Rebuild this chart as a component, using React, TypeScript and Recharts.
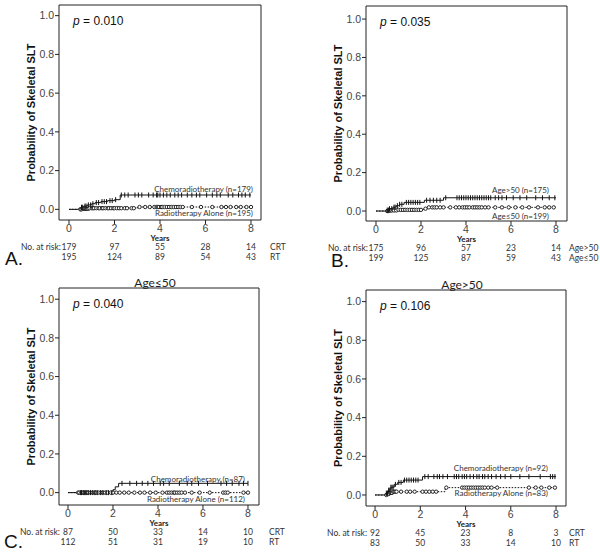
import React from "react";
import { ComposedChart, Line, XAxis, YAxis, ReferenceArea } from "recharts";

type Pt = [number, number];

// step points [years, probability] and censor times
const stepsA_crt: Pt[] = [[0, 0], [0.45, 0.006], [0.55, 0.011], [0.65, 0.017], [0.8, 0.023], [1.0, 0.029], [1.15, 0.035], [1.4, 0.04], [1.7, 0.045], [2.0, 0.05], [2.25, 0.074], [8.0, 0.074]];
const censorA_crt = [0.55, 0.6, 0.7, 0.75, 0.85, 0.95, 1.05, 1.2, 1.3, 1.45, 1.55, 1.65, 1.8, 1.9, 2.05, 2.3, 2.45, 2.6, 2.9, 3.05, 3.2, 3.5, 3.7, 3.85, 3.9, 4.0, 4.15, 4.3, 4.45, 4.65, 4.8, 4.95, 5.2, 5.4, 5.6, 5.75, 6.05, 6.3, 6.5, 6.65, 7.0, 7.2, 7.45, 7.6, 7.75, 7.95];
const stepsA_rt: Pt[] = [[0, 0], [0.6, 0.003], [0.9, 0.006], [3.0, 0.012], [8.0, 0.012]];
const censorA_rt = [0.5, 0.55, 0.6, 0.65, 0.7, 0.75, 0.8, 0.85, 0.9, 1.0, 1.05, 1.1, 1.2, 1.3, 1.35, 1.45, 1.5, 1.6, 1.7, 1.75, 1.85, 1.95, 2.0, 2.1, 2.2, 2.3, 2.45, 2.55, 2.75, 2.85, 3.1, 3.35, 3.55, 3.75, 3.85, 3.9, 3.95, 4.05, 4.1, 4.2, 4.3, 4.4, 4.5, 4.6, 4.7, 4.8, 4.9, 5.0, 5.4, 5.8, 6.3, 6.7, 6.9, 7.1, 7.35, 7.55, 7.8, 8.0];

const stepsB_old: Pt[] = [[0, 0], [0.45, 0.005], [0.6, 0.012], [0.75, 0.02], [0.9, 0.028], [1.05, 0.035], [1.25, 0.045], [2.15, 0.056], [3.0, 0.069], [8.0, 0.069]];
const censorB_old = [0.5, 0.55, 0.6, 0.7, 0.8, 0.85, 0.95, 1.05, 1.15, 1.35, 1.45, 1.55, 1.65, 1.75, 1.85, 1.95, 2.25, 2.4, 2.55, 2.7, 2.85, 3.1, 3.6, 3.7, 3.8, 3.9, 4.0, 4.1, 4.2, 4.3, 4.4, 4.5, 4.6, 4.7, 4.8, 4.9, 5.0, 5.1, 5.3, 5.45, 5.6, 5.8, 6.1, 6.4, 6.7, 7.1, 7.4, 7.7, 7.95];
const stepsB_young: Pt[] = [[0, 0], [0.6, 0.003], [1.0, 0.006], [2.1, 0.012], [2.3, 0.019], [8.0, 0.019]];
const censorB_young = [0.5, 0.55, 0.6, 0.65, 0.7, 0.8, 0.9, 1.0, 1.1, 1.2, 1.3, 1.4, 1.5, 1.6, 1.7, 1.8, 1.9, 2.0, 2.2, 2.35, 2.5, 2.6, 2.7, 2.85, 3.0, 3.3, 3.55, 3.7, 3.85, 3.95, 4.05, 4.15, 4.3, 4.4, 4.5, 4.6, 4.7, 4.85, 5.0, 5.3, 5.6, 5.9, 6.2, 6.5, 6.8, 7.2, 7.5, 7.7, 7.9];

const stepsC_crt: Pt[] = [[0, 0], [2.0, 0.015], [2.1, 0.03], [2.25, 0.048], [8.0, 0.048]];
const censorC_crt = [0.55, 0.6, 0.7, 0.75, 0.8, 0.9, 1.0, 1.1, 1.2, 1.3, 1.45, 1.55, 1.7, 1.8, 1.95, 2.4, 2.75, 3.05, 3.3, 3.55, 3.8, 4.1, 4.25, 4.5, 4.95, 5.3, 5.5, 5.8, 6.2, 6.8, 7.05, 7.3, 7.6, 7.8, 8.0];
const stepsC_rt: Pt[] = [[0, 0], [8.0, 0]];
const censorC_rt = [0.45, 0.5, 0.6, 0.65, 0.7, 0.8, 0.85, 0.9, 1.0, 1.1, 1.2, 1.25, 1.35, 1.45, 1.55, 1.65, 1.75, 1.9, 2.0, 2.15, 2.3, 2.5, 2.7, 2.95, 3.2, 3.4, 3.65, 3.9, 4.2, 4.4, 4.5, 4.6, 4.7, 4.75, 4.85, 4.95, 5.05, 5.2, 5.5, 5.85, 6.3, 6.9, 7.0, 7.1, 7.8, 8.0];

const stepsD_crt: Pt[] = [[0, 0], [0.5, 0.01], [0.6, 0.025], [0.7, 0.04], [0.85, 0.055], [1.0, 0.065], [1.25, 0.077], [2.1, 0.095], [8.0, 0.095]];
const censorD_crt = [0.5, 0.55, 0.6, 0.65, 0.7, 0.75, 0.8, 0.9, 1.05, 1.15, 1.3, 1.4, 1.5, 1.6, 1.7, 1.8, 1.9, 2.2, 2.35, 2.6, 2.75, 2.85, 3.0, 3.2, 3.5, 3.6, 3.7, 3.85, 3.95, 4.05, 4.2, 4.35, 4.5, 4.6, 4.75, 4.85, 5.0, 5.15, 5.35, 5.55, 5.75, 6.0, 6.4, 6.8, 7.3, 7.75, 7.85, 7.95];
const stepsD_rt: Pt[] = [[0, 0], [0.55, 0.005], [0.65, 0.011], [0.8, 0.017], [3.1, 0.038], [8.0, 0.038]];
const censorD_rt = [0.5, 0.55, 0.6, 0.65, 0.7, 0.75, 0.8, 0.85, 0.9, 0.95, 1.15, 1.4, 1.55, 1.75, 2.1, 2.25, 2.4, 2.55, 2.7, 3.15, 3.85, 3.95, 4.05, 4.15, 4.25, 4.35, 4.45, 4.55, 4.65, 4.75, 4.85, 5.0, 5.15, 5.4, 6.8, 7.1, 7.35, 7.7, 7.95];

const yearTicks = [0, 2, 4, 6, 8];
const probTicks = [0, 0.2, 0.4, 0.6, 0.8, 1.0];

const riskA_crt = [179, 97, 55, 28, 14];
const riskA_rt = [195, 124, 89, 54, 43];
const riskB_old = [175, 96, 57, 23, 14];
const riskB_young = [199, 125, 87, 59, 43];
const riskC_crt = [87, 50, 33, 14, 10];
const riskC_rt = [112, 51, 31, 19, 10];
const riskD_crt = [92, 45, 23, 8, 3];
const riskD_rt = [83, 50, 33, 14, 10];

const AXIS_W = 40;
const TEXT = "#333";
const SANS = "Liberation Sans, Arial, sans-serif";
const SMALL = "Lato, sans-serif";

function buildCurve(steps: Pt[], censor: number[]) {
  const valueAt = (t: number) => {
    let v = steps[0][1];
    for (const [s, p] of steps) if (s <= t) v = p;
    return v;
  };
  const pts = steps.map(([t, p]) => ({ t, p, c: false }));
  censor.forEach((t) => pts.push({ t, p: valueAt(t), c: true }));
  pts.sort((a, b) => a.t - b.t || (a.c ? 1 : -1));
  return pts;
}

const plusDot = (props: any) => {
  const { cx, cy, payload, index } = props;
  if (!payload?.c) return <g key={`p${index}`} />;
  return <line key={`p${index}`} x1={cx} x2={cx} y1={cy - 2.5} y2={cy + 2.5} stroke="#111" strokeWidth={1} />;
};

const circleDot = (props: any) => {
  const { cx, cy, payload, index } = props;
  if (!payload?.c) return <g key={`o${index}`} />;
  return <circle key={`o${index}`} cx={cx} cy={cy} r={1.7} fill="#fff" stroke="#111" strokeWidth={0.9} />;
};

type PanelDef = {
  ox: number; oy: number; h: number;
  box: { l: number; t: number; r: number; b: number };
  xDom: [number, number]; yDom: [number, number];
  p: string; title?: string;
  letter?: { text: string; x: number; y: number };
  upper: { steps: Pt[]; censor: number[]; label: string; ly: number };
  lower: { steps: Pt[]; censor: number[]; label: string; ly: number };
  labelRight: number;
  riskUpper: number[]; riskLower: number[];
  rowNames: [string, string]; rowNameX: number;
};

const panels: PanelDef[] = [
  {
    ox: 0, oy: 0, h: 275, box: { l: 59, t: 5, r: 261, b: 220 },
    xDom: [-0.44, 8.44], yDom: [-0.055, 1.055], p: "0.010",
    letter: { text: "A.", x: 5, y: 259 },
    upper: { steps: stepsA_crt, censor: censorA_crt, label: "Chemoradiotherapy (n=179)", ly: 189 },
    lower: { steps: stepsA_rt, censor: censorA_rt, label: "Radiotherapy Alone (n=195)", ly: 213 },
    labelRight: 253, riskUpper: riskA_crt, riskLower: riskA_rt, rowNames: ["CRT", "RT"], rowNameX: 270,
  },
  {
    ox: 300, oy: 0, h: 275, box: { l: 366, t: 6, r: 567, b: 221 },
    xDom: [-0.444, 8.49], yDom: [-0.052, 1.068], p: "0.035",
    letter: { text: "B.", x: 331, y: 261 },
    upper: { steps: stepsB_old, censor: censorB_old, label: "Age>50 (n=175)", ly: 190 },
    lower: { steps: stepsB_young, censor: censorB_young, label: "Age≤50 (n=199)", ly: 216 },
    labelRight: 549, riskUpper: riskB_old, riskLower: riskB_young, rowNames: ["Age>50", "Age≤50"], rowNameX: 569,
  },
  {
    ox: 0, oy: 280, h: 273, box: { l: 59, t: 288, r: 259, b: 505 },
    xDom: [-0.4, 8.49], yDom: [-0.064, 1.058], p: "0.040", title: "Age≤50",
    letter: { text: "C.", x: 4, y: 542 },
    upper: { steps: stepsC_crt, censor: censorC_crt, label: "Chemoradiotherapy (n=87)", ly: 479 },
    lower: { steps: stepsC_rt, censor: censorC_rt, label: "Radiotherapy Alone (n=112)", ly: 499 },
    labelRight: 245, riskUpper: riskC_crt, riskLower: riskC_rt, rowNames: ["CRT", "RT"], rowNameX: 269,
  },
  {
    ox: 300, oy: 280, h: 273, box: { l: 366, t: 290, r: 566, b: 506 },
    xDom: [-0.4, 8.44], yDom: [-0.057, 1.06], p: "0.106", title: "Age>50",
    upper: { steps: stepsD_crt, censor: censorD_crt, label: "Chemoradiotherapy (n=92)", ly: 468 },
    lower: { steps: stepsD_rt, censor: censorD_rt, label: "Radiotherapy Alone (n=83)", ly: 493 },
    labelRight: 548, riskUpper: riskD_crt, riskLower: riskD_rt, rowNames: ["CRT", "RT"], rowNameX: 569,
  },
];

function RiskTick(props: any) {
  const { x, y, payload, index, upper, lower, names, namesX } = props;
  const last = index === yearTicks.length - 1;
  const small = { fontFamily: SMALL, fontSize: 8.5, fill: TEXT };
  return (
    <g>
      <text x={x} y={y - 1.5} dy="0.71em" textAnchor="middle" style={{ fontFamily: SANS, fontSize: 10.5, fill: "#444" }}>
        {payload.value}
      </text>
      <text x={x} y={y + 23.5} textAnchor="middle" style={small}>{upper[index]}</text>
      <text x={x} y={y + 34} textAnchor="middle" style={small}>{lower[index]}</text>
      {index === 0 && (
        <text x={x - 8} y={y + 23.5} textAnchor="end" style={small}>No. at risk:</text>
      )}
      {last && <text x={namesX} y={y + 23.5} style={small}>{names[0]}</text>}
      {last && <text x={namesX} y={y + 34} style={small}>{names[1]}</text>}
    </g>
  );
}

function Panel({ d }: { d: PanelDef }) {
  const { box } = d;
  const upper = buildCurve(d.upper.steps, d.upper.censor);
  const lower = buildCurve(d.lower.steps, d.lower.censor);
  const margin = { top: box.t - d.oy, right: d.ox + 300 - box.r, left: box.l - d.ox - AXIS_W, bottom: 0 };
  const axisH = d.oy + d.h - box.b;
  const abs = (x: number, y: number): React.CSSProperties => ({ position: "absolute", left: x - d.ox, top: y - d.oy, whiteSpace: "nowrap" });
  return (
    <div style={{ position: "absolute", left: d.ox, top: d.oy, width: 300, height: d.h }}>
      <ComposedChart width={300} height={d.h} margin={margin}>
        <XAxis
          type="number"
          dataKey="t"
          domain={d.xDom}
          ticks={yearTicks}
          axisLine={false}
          tickSize={4}
          tickMargin={2}
          height={axisH}
          stroke="#222"
          interval={0}
          tick={(p: any) => <RiskTick {...p} upper={d.riskUpper} lower={d.riskLower} names={d.rowNames} namesX={d.rowNameX - d.ox} />}
          label={{ value: "Years", position: "insideTop", offset: 15, style: { fontFamily: SMALL, fontWeight: 700, fontSize: 8, fill: "#222" } }}
        />
        <YAxis
          type="number"
          dataKey="p"
          domain={d.yDom}
          ticks={probTicks}
          width={AXIS_W}
          axisLine={false}
          tickSize={4}
          tickMargin={1}
          stroke="#222"
          interval={0}
          tickFormatter={(v: number) => v.toFixed(1)}
          tick={{ fontFamily: SANS, fontSize: 10.5, fill: "#444" }}
          label={{
            value: "Probability of Skeletal SLT",
            angle: -90,
            position: "insideLeft",
            offset: AXIS_W - 28,
            style: { textAnchor: "middle", fontFamily: SANS, fontWeight: 700, fontSize: 11, fill: "#111" },
          }}
        />
        <ReferenceArea x1={d.xDom[0]} x2={d.xDom[1]} y1={d.yDom[0]} y2={d.yDom[1]} fill="none" stroke="#222" strokeWidth={1} ifOverflow="visible" />
        <Line data={lower} dataKey="p" type="stepAfter" stroke="#111" strokeWidth={1} strokeDasharray="1.5 1.5" dot={circleDot} activeDot={false} isAnimationActive={false} />
        <Line data={upper} dataKey="p" type="stepAfter" stroke="#111" strokeWidth={1} dot={plusDot} activeDot={false} isAnimationActive={false} />
      </ComposedChart>
      <div style={{ ...abs(box.l + 14, box.t + 16), transform: "translateY(-50%)", fontFamily: SANS, fontSize: 12, color: "#111" }}>
        <i>p</i> = {d.p}
      </div>
      {d.title && (
        <div style={{ ...abs((box.l + box.r) / 2 - 4, box.t - 6), transform: "translate(-50%, -50%)", fontFamily: SMALL, fontSize: 12, color: "#222" }}>
          {d.title}
        </div>
      )}
      <div style={{ ...abs(d.labelRight, d.upper.ly), transform: "translate(-100%, -50%)", fontFamily: SMALL, fontSize: 8, color: TEXT }}>
        {d.upper.label}
      </div>
      <div style={{ ...abs(d.labelRight, d.lower.ly), transform: "translate(-100%, -50%)", fontFamily: SMALL, fontSize: 8, color: TEXT }}>
        {d.lower.label}
      </div>
    </div>
  );
}

export default function App() {
  return (
    <div style={{ position: "absolute", left: 0, top: 0, width: 600, height: 553, background: "#fff", overflow: "hidden" }}>
      {panels.map((d, i) => (
        <Panel key={i} d={d} />
      ))}
      {panels.map((d, i) =>
        d.letter ? (
          <div key={`l${i}`} style={{ position: "absolute", left: d.letter.x, top: d.letter.y, transform: "translateY(-50%)", fontFamily: SANS, fontSize: 19, color: "#111" }}>
            {d.letter.text}
          </div>
        ) : null,
      )}
    </div>
  );
}
